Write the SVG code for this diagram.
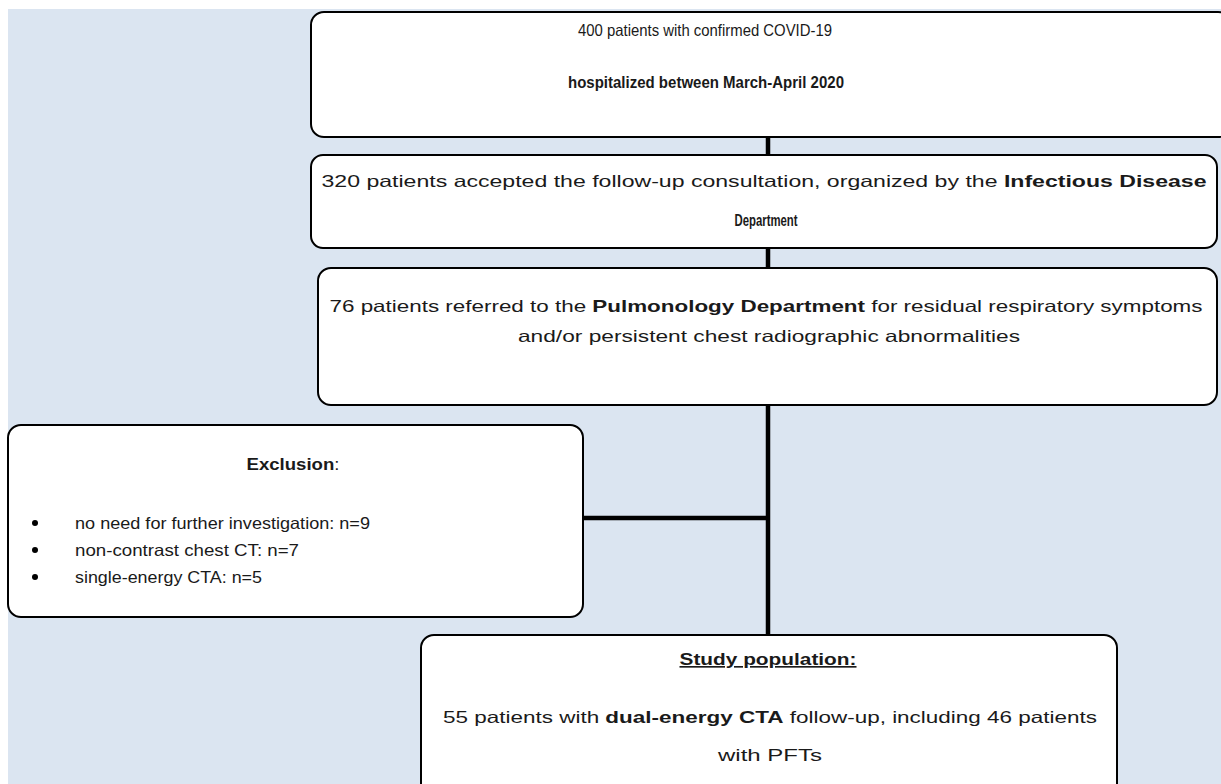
<svg xmlns="http://www.w3.org/2000/svg" width="1221" height="784" viewBox="0 0 1221 784">
<style>
.box{fill:#ffffff;stroke:#000000;stroke-width:2}
.conn{stroke:#000000;stroke-width:4.5;fill:none}
text{font-family:"Liberation Sans",Arial,sans-serif;font-size:16.5px;fill:#1a1a1a}
.c{text-anchor:middle}
.b{font-weight:bold}
</style>
<rect x="0" y="0" width="1221" height="784" fill="#ffffff"/>
<rect x="8" y="9" width="1213" height="775" fill="#dbe5f1"/>
<g id="connectors">
<line class="conn" x1="768" y1="137" x2="768" y2="635"/>
<line class="conn" x1="583" y1="518" x2="768" y2="518"/>
</g>
<g id="node-covid">
<rect class="box" x="311" y="12" width="920" height="125" rx="13"/>
<text class="c" x="705" y="36" textLength="254" lengthAdjust="spacingAndGlyphs">400 patients with confirmed COVID-19</text>
<text class="c b" x="706" y="88" textLength="276" lengthAdjust="spacingAndGlyphs">hospitalized between March-April 2020</text>
</g>
<g id="node-followup">
<rect class="box" x="311" y="155" width="906" height="93" rx="12"/>
<text class="c" x="764" y="187" textLength="885" lengthAdjust="spacingAndGlyphs">320 patients accepted the follow-up consultation, organized by the <tspan class="b">Infectious Disease</tspan></text>
<text class="c b" x="766" y="226" textLength="63" lengthAdjust="spacingAndGlyphs">Department</text>
</g>
<g id="node-pulmonology">
<rect class="box" x="318" y="268" width="899" height="137" rx="13"/>
<text class="c" x="766" y="312" textLength="873" lengthAdjust="spacingAndGlyphs">76 patients referred to the <tspan class="b">Pulmonology Department</tspan> for residual respiratory symptoms</text>
<text class="c" x="769" y="342" textLength="502" lengthAdjust="spacingAndGlyphs">and/or persistent chest radiographic abnormalities</text>
</g>
<g id="node-exclusion">
<rect class="box" x="8" y="425" width="575" height="192" rx="13"/>
<text class="c b" x="293" y="470" textLength="93" lengthAdjust="spacingAndGlyphs">Exclusion<tspan font-weight="normal">:</tspan></text>
<circle cx="35" cy="523" r="3"/>
<circle cx="35" cy="550" r="3"/>
<circle cx="35" cy="577" r="3"/>
<text x="75" y="529" textLength="295" lengthAdjust="spacingAndGlyphs">no need for further investigation: n=9</text>
<text x="75" y="556" textLength="224" lengthAdjust="spacingAndGlyphs">non-contrast chest CT: n=7</text>
<text x="75" y="583" textLength="187" lengthAdjust="spacingAndGlyphs">single-energy CTA: n=5</text>
</g>
<g id="node-study">
<rect class="box" x="421" y="635" width="696" height="170" rx="13"/>
<text class="c b" x="768" y="665" textLength="177" lengthAdjust="spacingAndGlyphs" text-decoration="underline">Study population:</text>
<text class="c" x="770" y="723" textLength="654" lengthAdjust="spacingAndGlyphs">55 patients with <tspan class="b">dual-energy CTA</tspan> follow-up, including 46 patients</text>
<text class="c" x="770" y="761" textLength="104" lengthAdjust="spacingAndGlyphs">with PFTs</text>
</g>
</svg>
